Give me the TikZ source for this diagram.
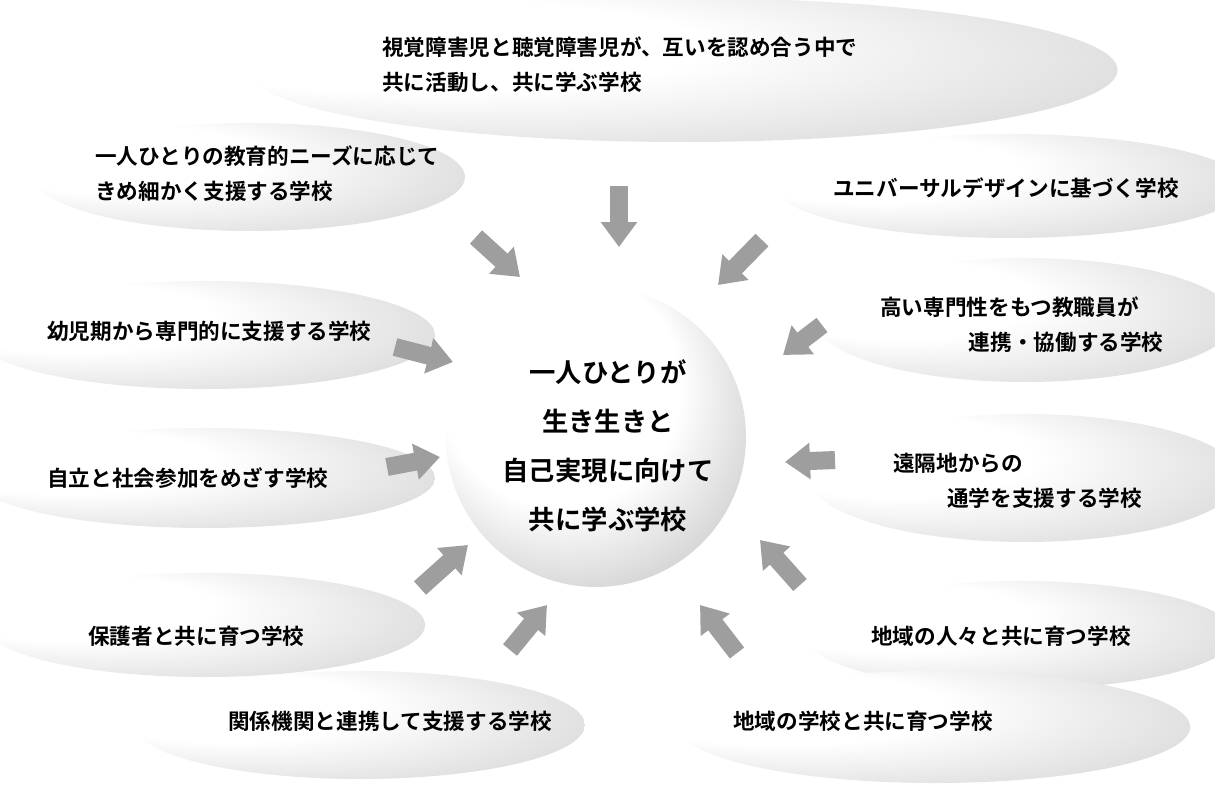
\documentclass[tikz,border=0pt]{standalone}
\usepackage{fontspec}
\newfontfamily\jp{Noto Sans CJK JP}[BoldFont={* Bold}]
\usetikzlibrary{arrows.meta,fadings}
\definecolor{arrowgray}{gray}{0.62}
\pgfdeclareradialshading{cloudsh}{\pgfpoint{-22bp}{12bp}}{color(0bp)=(white); color(16bp)=(white); color(40bp)=(black!17); color(50bp)=(black!25)}
\pgfdeclareradialshading{spheresh}{\pgfpoint{-10bp}{14bp}}{color(0bp)=(white); color(20bp)=(white); color(38bp)=(black!25); color(50bp)=(black!44)}
\pgfdeclareradialshading{softsh}{\pgfpointorigin}{color(0bp)=(white); color(34bp)=(white); color(50bp)=(black)}
\pgfdeclarefading{softedge}{\pgfuseshading{softsh}}
\begin{document}
\begin{tikzpicture}[x=0.02cm,y=-0.02cm,
  cloudtext/.style={font=\jp\bfseries\fontsize{12.3}{20}\selectfont, align=left, inner sep=0pt, anchor=west},
  ctrtext/.style={font=\jp\bfseries\fontsize{15}{27.8}\selectfont, align=center, inner sep=0pt},
  cloud/.style={shading=cloudsh, path fading=softedge},
  blockarrow/.style={line width=0.36cm, draw=arrowgray, -{Triangle[width=0.7cm,length=0.5cm]}}]
\useasboundingbox (0,0) rectangle (1215,785);
\fill[white] (0,0) rectangle (1215,785);

% clouds
\path[cloud] (683,70) ellipse [x radius=435, y radius=72];
\path[cloud] (250,177) ellipse [x radius=215, y radius=54];
\path[cloud] (1010,186) ellipse [x radius=235, y radius=52];
\path[cloud] (1025,320) ellipse [x radius=210, y radius=62];
\path[cloud] (205,335) ellipse [x radius=230, y radius=54];
\path[cloud] (205,478) ellipse [x radius=230, y radius=50];
\path[cloud] (1025,478) ellipse [x radius=215, y radius=64];
\path[cloud] (205,625) ellipse [x radius=220, y radius=52];
\path[cloud] (1020,635) ellipse [x radius=215, y radius=54];
\path[cloud] (360,725) ellipse [x radius=225, y radius=54];
\path[cloud] (935,727) ellipse [x radius=255, y radius=56];

% cloud texts
\node[cloudtext] (t1) at (382,65) {視覚障害児と聴覚障害児が、互いを認め合う中で\\共に活動し、共に学ぶ学校};
\node[cloudtext] (t2) at (95,174) {一人ひとりの教育的ニーズに応じて\\きめ細かく支援する学校};
\node[cloudtext] (t3) at (833,188) {ユニバーサルデザインに基づく学校};
\node[cloudtext] (t4) at (880,325) {高い専門性をもつ教職員が\\\hspace*{4.1em}連携・協働する学校};
\node[cloudtext] (t5) at (47,331) {幼児期から専門的に支援する学校};
\node[cloudtext] (t6) at (47,478) {自立と社会参加をめざす学校};
\node[cloudtext] (t7) at (893,481) {遠隔地からの\\\hspace*{2.5em}通学を支援する学校};
\node[cloudtext] (t8) at (88,636) {保護者と共に育つ学校};
\node[cloudtext] (t9) at (871,636) {地域の人々と共に育つ学校};
\node[cloudtext] (t10) at (228,721) {関係機関と連携して支援する学校};
\node[cloudtext] (t11) at (733,721) {地域の学校と共に育つ学校};

% central sphere
\node[circle, minimum size=6cm, inner sep=0pt, shading=spheresh] (sphere) at (596,437) {};
\node[ctrtext] (centre) at (608,446) {一人ひとりが\\生き生きと\\自己実現に向けて\\共に学ぶ学校};

% arrows
\coordinate (a1s) at (619,186);  \coordinate (a1e) at (619,247);
\coordinate (a2s) at (476,237);  \coordinate (a2e) at (520,277);
\coordinate (a3s) at (762,240);  \coordinate (a3e) at (718,285);
\coordinate (a4s) at (395,347);  \coordinate (a4e) at (453,362);
\coordinate (a5s) at (822,325);  \coordinate (a5e) at (783,355);
\coordinate (a6s) at (387,467);  \coordinate (a6e) at (440,457);
\coordinate (a7s) at (835,460);  \coordinate (a7e) at (785,462);
\coordinate (a8s) at (420,588);  \coordinate (a8e) at (468,545);
\coordinate (a9s) at (800,585);  \coordinate (a9e) at (760,540);
\coordinate (a10s) at (510,650); \coordinate (a10e) at (547,605);
\coordinate (a11s) at (737,653); \coordinate (a11e) at (700,605);
\foreach \i in {1,...,11} {\draw[blockarrow] (a\i s) -- (a\i e);}
\end{tikzpicture}
\end{document}
